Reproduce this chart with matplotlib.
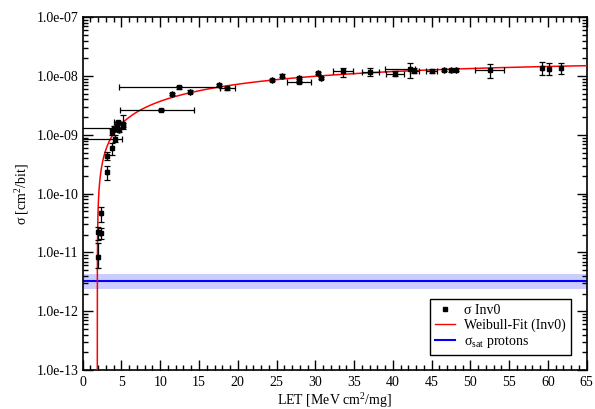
import numpy as np
import matplotlib
matplotlib.use("Agg")
import matplotlib.pyplot as plt
from matplotlib.lines import Line2D
from matplotlib.ticker import MultipleLocator, LogLocator, FuncFormatter, NullFormatter

plt.rcParams['font.family'] = ['Liberation Serif', 'DejaVu Serif']
plt.rcParams['mathtext.fontset'] = 'custom'
plt.rcParams['mathtext.rm'] = 'Liberation Serif'
plt.rcParams['mathtext.it'] = 'Liberation Serif'

let = [1.94, 1.94, 2.32, 2.32, 3.14, 3.14, 3.80, 4.20,
       3.78, 4.00, 4.17, 4.47, 4.70, 5.24, 4.60, 5.20,
       10.1, 11.48, 12.4, 13.84, 17.6, 18.66, 24.4, 25.76, 27.9, 27.9, 30.3, 30.7,
       33.6, 37.07, 40.3, 42.2, 42.75, 45.0, 46.6, 47.5, 48.2, 52.5, 59.2, 60.2, 61.7]
sigma = [8.5e-12, 2.25e-11, 2.1e-11, 4.6e-11, 2.37e-10, 4.4e-10, 5.9e-10, 8.6e-10,
         1.13e-9, 1.33e-9, 1.25e-9, 1.42e-9, 1.20e-9, 1.42e-9, 1.67e-9, 1.55e-9,
         2.62e-9, 4.97e-9, 6.4e-9, 5.43e-9, 7.0e-9, 6.2e-9, 8.6e-9, 1.02e-8, 9.2e-9, 8.0e-9, 1.12e-8, 9.4e-9,
         1.22e-8, 1.16e-8, 1.10e-8, 1.32e-8, 1.24e-8, 1.22e-8, 1.27e-8, 1.26e-8, 1.28e-8, 1.27e-8, 1.36e-8, 1.33e-8, 1.37e-8]
sigma_lo = [5.4e-12, 1.6e-11, 1.7e-11, 3.3e-11, 1.7e-10, 3.8e-10, 4.5e-10, 7.6e-10,
            1.0e-9, 1.25e-9, 1.15e-9, 1.33e-9, 1.12e-9, 1.25e-9, 1.6e-9, 1.35e-9,
            2.5e-9, 4.7e-9, 6.1e-9, 5.2e-9, 6.7e-9, 5.9e-9, 8.2e-9, 9.7e-9, 8.8e-9, 7.6e-9, 1.07e-8, 9.0e-9,
            9.8e-9, 1.0e-8, 1.0e-8, 9.2e-9, 1.12e-8, 1.12e-8, 1.2e-8, 1.19e-8, 1.21e-8, 9.4e-9, 1.05e-8, 1.05e-8, 1.1e-8]
sigma_hi = [1.45e-11, 2.75e-11, 2.6e-11, 6.0e-11, 2.9e-10, 5.1e-10, 7.2e-10, 9.8e-10,
            1.27e-9, 1.42e-9, 1.36e-9, 1.52e-9, 1.3e-9, 1.6e-9, 1.75e-9, 2.15e-9,
            2.75e-9, 5.25e-9, 6.7e-9, 5.7e-9, 7.35e-9, 6.5e-9, 9.0e-9, 1.07e-8, 9.6e-9, 8.4e-9, 1.17e-8, 9.8e-9,
            1.39e-8, 1.35e-8, 1.2e-8, 1.65e-8, 1.37e-8, 1.32e-8, 1.34e-8, 1.33e-8, 1.35e-8, 1.58e-8, 1.75e-8, 1.7e-8, 1.7e-8]
let_lo = [0, 0, 0.1, 0, 0, 0, 0, 5.0,
          0, 5.0, 0, 0, 0, 0, 0.6, 0,
          5.3, 0, 7.7, 0, 0, 1.0, 0, 0, 0, 1.5, 0, 0,
          1.27, 1.1, 1.15, 3.2, 0.6, 0.75, 0, 0, 0, 1.9, 0, 0, 0]
let_hi = [0, 0, 0.1, 0, 0, 0, 0, 0.9,
          0, 0.3, 0, 0, 0, 0, 0.6, 0,
          4.2, 0, 5.3, 0, 0, 1.0, 0, 0, 0, 1.5, 0, 0,
          1.27, 1.1, 1.15, 0.7, 0.6, 0.75, 0, 0, 0, 1.9, 0, 0, 0]

# Weibull fit parameters
sat = 1.8e-8
L0 = 1.88
W = 35.0
s = 1.0

# proton saturation cross section and its band
proton_sat = 3.3e-12
proton_lo = 2.4e-12
proton_hi = 4.3e-12

let = np.array(let)
sigma = np.array(sigma)
yerr = [sigma - np.array(sigma_lo), np.array(sigma_hi) - sigma]
xerr = [let_lo, let_hi]

fig = plt.figure(figsize=(5.95, 4.09), dpi=100)
ax = fig.add_axes([0.139, 0.0954, 0.847, 0.8623])

ax.axhspan(proton_lo, proton_hi, color='#ccccff', lw=0, zorder=1)
ax.axhline(proton_sat, color='#0000ff', lw=1.5, zorder=2)

dx = np.concatenate([[0], np.geomspace(1e-7, 65 - L0, 600)])
lx = L0 + dx
fit = sat * (1 - np.exp(-(dx / W) ** s))
ax.plot(lx, fit, color='red', lw=1.1, zorder=3)

ax.errorbar(let, sigma, xerr=xerr, yerr=yerr, fmt='s', color='black', ms=3.4,
            ecolor='black', elinewidth=0.9, capsize=2.2, capthick=0.9, zorder=4)

ax.set_yscale('log')
ax.set_xlim(0, 65)
ax.set_ylim(1e-13, 1e-7)

ax.xaxis.set_major_locator(MultipleLocator(5))
ax.xaxis.set_minor_locator(MultipleLocator(1))
ax.yaxis.set_major_locator(LogLocator(base=10, numticks=10))
ax.yaxis.set_minor_locator(LogLocator(base=10, subs=np.arange(2, 10), numticks=10))
ax.yaxis.set_major_formatter(FuncFormatter(lambda v, p: '%.1e' % v))
ax.yaxis.set_minor_formatter(NullFormatter())

ax.tick_params(which='both', direction='in', top=True, right=True, labelsize=10, width=1.0)
ax.tick_params(which='major', length=7)
ax.tick_params(which='minor', length=3.5)
ax.tick_params(axis='x', pad=4)
ax.tick_params(axis='y', pad=3)
for sp in ax.spines.values():
    sp.set_linewidth(1.2)

ax.set_xlabel('LET [MeV cm$^2$/mg]', fontsize=10, labelpad=2)
ax.set_ylabel('σ [cm$^2$/bit]', fontsize=10, labelpad=4)

handles = [Line2D([], [], marker='s', ls='none', color='black', ms=3),
           Line2D([], [], color='red', lw=1.0),
           Line2D([], [], color='#0000ff', lw=1.5)]
labels = ['σ Inv0', 'Weibull-Fit (Inv0)', 'σ$_{\\mathrm{sat}}$ protons']
leg = ax.legend(handles, labels, loc='lower right', bbox_to_anchor=(0.969, 0.042),
                borderaxespad=0, fontsize=10, frameon=True, fancybox=False, framealpha=1,
                edgecolor='black', handlelength=1.45, handletextpad=0.7,
                borderpad=0.35, labelspacing=0.15)
leg.get_frame().set_linewidth(1.0)

fig.savefig('out.png', dpi=100)
